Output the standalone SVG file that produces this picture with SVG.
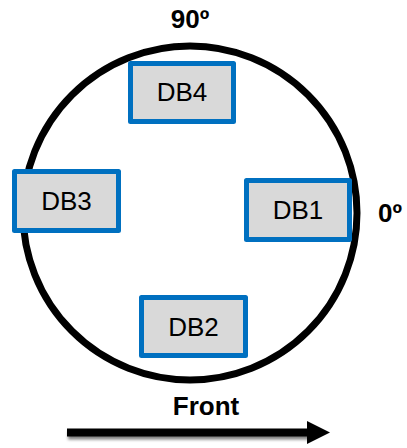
<svg xmlns="http://www.w3.org/2000/svg" width="407" height="448" viewBox="0 0 407 448">
<style>
.db rect{fill:#D9D9D9;stroke:#0070C0;stroke-width:5;stroke-linejoin:round}
.db text{font-family:"Liberation Sans",Arial,sans-serif;font-size:26px;fill:#000;text-anchor:middle}
.lbl{font-family:"Liberation Sans",Arial,sans-serif;font-size:26px;font-weight:bold;fill:#000;text-anchor:middle}
</style>
<defs>
<filter id="sh" x="-10%" y="-100%" width="120%" height="300%">
<feGaussianBlur stdDeviation="1.5"/>
</filter>
</defs>
<rect width="407" height="448" fill="#fff"/>
<g id="ring">
<circle cx="190" cy="213" r="167" fill="none" stroke="#000" stroke-width="7"/>
</g>
<g id="db4" class="db"><rect x="130.5" y="63.5" width="103" height="58"/><text x="182" y="101">DB4</text></g>
<g id="db1" class="db"><rect x="246.5" y="180.5" width="103" height="59"/><text x="298" y="219">DB1</text></g>
<g id="db3" class="db"><rect x="14.5" y="171.5" width="104" height="59"/><text x="66.5" y="210">DB3</text></g>
<g id="db2" class="db"><rect x="141.5" y="297.5" width="104" height="58"/><text x="193.5" y="336">DB2</text></g>
<text class="lbl" x="190" y="28">90º</text>
<text class="lbl" x="390" y="222">0º</text>
<text class="lbl" x="206" y="415">Front</text>
<g id="connectors">
<g filter="url(#sh)" opacity="0.5" transform="translate(1,3)">
<rect x="67" y="428.5" width="242" height="8" fill="#000"/>
</g>
<rect x="67" y="428.5" width="242" height="8" fill="#000"/>
<polygon points="307,421 330,432.5 307,444" fill="#000"/>
</g>
</svg>
